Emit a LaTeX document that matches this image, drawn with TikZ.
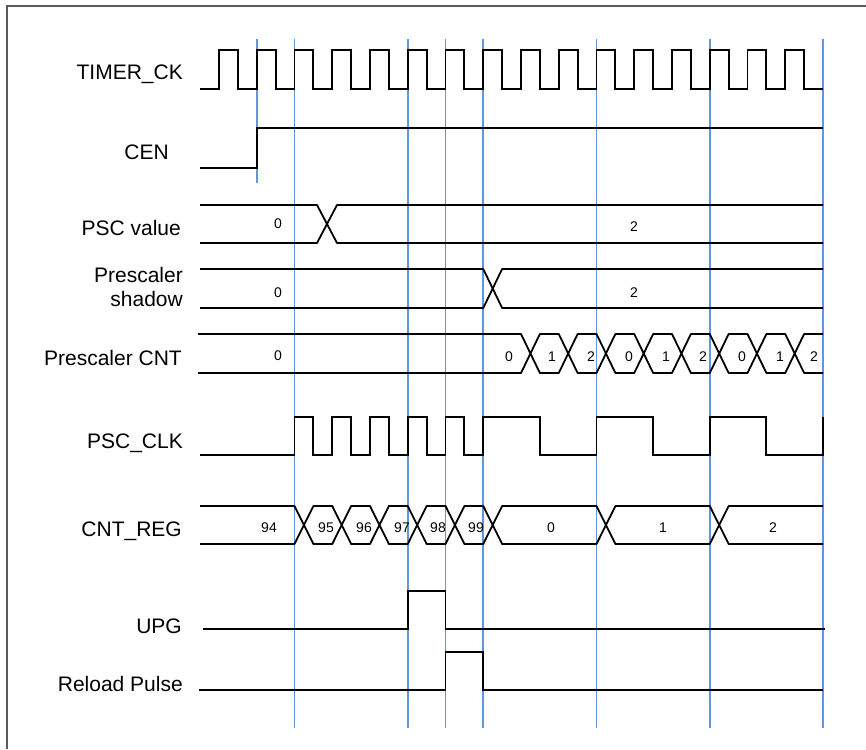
\documentclass[tikz,border=0pt]{standalone}
\usepackage{fontspec}
\setmainfont{Liberation Sans}
\definecolor{gridblue}{RGB}{95,150,220}
\definecolor{framegray}{RGB}{90,90,90}
\begin{document}
\begin{tikzpicture}[x=1pt,y=-1pt,
  sig/.style={line width=1.8pt, black, line join=miter},
  bus/.style={line width=1.8pt, black, line join=round},
  gridline/.style={line width=1.6pt, gridblue},
  signame/.style={font=\fontsize{21}{24}\selectfont, anchor=base east, inner sep=0pt, align=right},
  val/.style={font=\fontsize{14}{16}\selectfont, inner sep=0pt, anchor=center}]
\useasboundingbox (0,0) rectangle (866,749);
\def\X{219}\def\T{37.75}
% frame
\draw[line width=2pt, framegray] (7,749) -- (7,6) -- (866,6);
% blue guide lines
\draw[gridline] ({\X+\T},39) -- ({\X+\T},183);
\foreach \k in {2,5,6,7,10,13,16} \draw[gridline] ({\X+\T*\k},39) -- ({\X+\T*\k},728);
% signal names
\node[signame] (nTimer) at (183,80) {TIMER\_CK};
\node[signame] (nCen) at (169,159) {CEN};
\node[signame] (nPscv) at (181,235) {PSC value};
\node[signame] (nShadow) at (183,306) {Prescaler\\shadow};
\node[signame] (nPcnt) at (182,365) {Prescaler CNT};
\node[signame] (nPclk) at (183,448) {PSC\_CLK};
\node[signame] (nCnt) at (182,536) {CNT\_REG};
\node[signame] (nUpg) at (182,633) {UPG};
\node[signame] (nReload) at (183,691) {Reload Pulse};
% TIMER_CK
\draw[sig] (200,89) foreach \k in {0,...,15} { -- ({\X+\T*\k},89) -- ({\X+\T*\k},50) -- ({\X+\T*(\k+0.5)},50) -- ({\X+\T*(\k+0.5)},89) } -- ({\X+\T*16},89);
% CEN
\draw[sig] (200,168) -- ({\X+\T},168) -- ({\X+\T},128) -- ({\X+\T*16},128);
% PSC value
\draw[bus] (200,205) -- (317,205) -- (327,224) -- (337,205) -- ({\X+\T*16},205);
\draw[bus] (200,243) -- (317,243) -- (327,224) -- (337,243) -- ({\X+\T*16},243);
\node[val] (pv0) at (278,224) {0};
\node[val] (pv2) at (634,227) {2};
% Prescaler shadow
\draw[bus] (200,269) -- ({\X+\T*7},269) -- ({\X+\T*7.25},288.5) -- ({\X+\T*7.5},269) -- ({\X+\T*16},269);
\draw[bus] (200,308) -- ({\X+\T*7},308) -- ({\X+\T*7.25},288.5) -- ({\X+\T*7.5},308) -- ({\X+\T*16},308);
\node[val] (ps0) at (278,293) {0};
\node[val] (ps2) at (634,293) {2};
% Prescaler CNT
\draw[bus] (198,334) foreach \k in {8,...,15} { -- ({\X+\T*\k},334) -- ({\X+\T*(\k+0.25)},353.5) -- ({\X+\T*(\k+0.5)},334) } -- ({\X+\T*16},334);
\draw[bus] (198,373) foreach \k in {8,...,15} { -- ({\X+\T*\k},373) -- ({\X+\T*(\k+0.25)},353.5) -- ({\X+\T*(\k+0.5)},373) } -- ({\X+\T*16},373);
\node[val] (pc0) at (278,356) {0};
\node[val] (pca) at (509,357) {0};
\node[val] (pcb) at (552,357) {1};
\node[val] (pcc) at (591,357) {2};
\node[val] (pcd) at (629,357) {0};
\node[val] (pce) at (666,357) {1};
\node[val] (pcf) at (703,357) {2};
\node[val] (pcg) at (742,357) {0};
\node[val] (pch) at (780,357) {1};
\node[val] (pci) at (814,357) {2};
% PSC_CLK
\draw[sig] (200,455) foreach \r/\f in {2/2.5,3/3.5,4/4.5,5/5.5,6/6.5,7/8.5,10/11.5,13/14.5} { -- ({\X+\T*\r},455) -- ({\X+\T*\r},417) -- ({\X+\T*\f},417) -- ({\X+\T*\f},455) } -- ({\X+\T*16},455) -- ({\X+\T*16},417);
% CNT_REG
\draw[bus] (200,506) foreach \k in {2,3,4,5,6,7,10,13} { -- ({\X+\T*\k},506) -- ({\X+\T*(\k+0.25)},525) -- ({\X+\T*(\k+0.5)},506) } -- ({\X+\T*16},506);
\draw[bus] (200,544) foreach \k in {2,3,4,5,6,7,10,13} { -- ({\X+\T*\k},544) -- ({\X+\T*(\k+0.25)},525) -- ({\X+\T*(\k+0.5)},544) } -- ({\X+\T*16},544);
\node[val] (c94) at (269,528) {94};
\node[val] (c95) at (326,528) {95};
\node[val] (c96) at (364,528) {96};
\node[val] (c97) at (402,528) {97};
\node[val] (c98) at (438,528) {98};
\node[val] (c99) at (476,528) {99};
\node[val] (c0) at (551,528) {0};
\node[val] (c1) at (663,528) {1};
\node[val] (c2) at (773,528) {2};
% UPG
\draw[sig] (203,629) -- ({\X+\T*5},629) -- ({\X+\T*5},591) -- ({\X+\T*6},591) -- ({\X+\T*6},629) -- (825,629);
% Reload Pulse
\draw[sig] (199,690) -- ({\X+\T*6},690) -- ({\X+\T*6},652) -- ({\X+\T*7},652) -- ({\X+\T*7},690) -- ({\X+\T*16},690);
\end{tikzpicture}
\end{document}
